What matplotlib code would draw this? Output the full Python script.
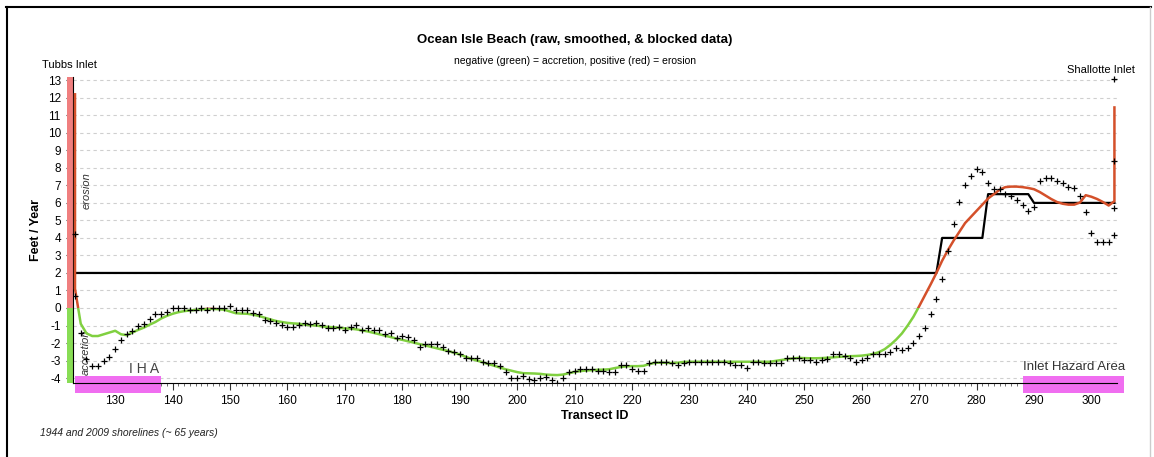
import matplotlib.pyplot as plt
from matplotlib.lines import Line2D
import numpy as np

plt.rcParams['font.family'] = ['Liberation Sans', 'DejaVu Sans']
plt.rcParams['axes.unicode_minus'] = False

# raw rates, one per transect 123..304
raw_ids = np.arange(123, 305)
raw_vals = [
    0.7, -1.4, -2.9, -3.3, -3.3, -3.0, -2.8, -2.36, -1.8, -1.5,
    -1.3, -1.04, -0.93, -0.6, -0.37, -0.37, -0.22, 0.0, 0.0, 0.0,
    -0.13, -0.09, 0.02, -0.13, 0.02, 0.02, 0.0, 0.13, -0.13, -0.13,
    -0.13, -0.28, -0.32, -0.66, -0.74, -0.85, -0.95, -1.1, -1.1, -0.98,
    -0.85, -0.9, -0.85, -0.95, -1.12, -1.12, -1.1, -1.23, -1.08, -0.99,
    -1.26, -1.12, -1.23, -1.23, -1.51, -1.45, -1.74, -1.6, -1.68, -1.85,
    -2.2, -2.06, -2.06, -2.06, -2.2, -2.46, -2.5, -2.6, -2.88, -2.88,
    -2.84, -3.07, -3.16, -3.12, -3.3, -3.63, -3.97, -3.97, -3.88, -4.05,
    -4.1, -4.0, -3.95, -4.1, -4.26, -4.0, -3.63, -3.57, -3.5, -3.5,
    -3.5, -3.6, -3.6, -3.63, -3.65, -3.26, -3.26, -3.5, -3.6, -3.6,
    -3.16, -3.1, -3.1, -3.1, -3.16, -3.26, -3.12, -3.07, -3.07, -3.07,
    -3.07, -3.07, -3.07, -3.07, -3.12, -3.26, -3.26, -3.4, -3.07, -3.07,
    -3.12, -3.12, -3.12, -3.12, -2.88, -2.88, -2.88, -2.97, -2.97, -3.1,
    -2.97, -2.9, -2.63, -2.63, -2.74, -2.88, -3.1, -2.97, -2.88, -2.65,
    -2.65, -2.65, -2.54, -2.27, -2.4, -2.27, -1.99, -1.61, -1.12, -0.36,
    0.53, 1.63, 3.28, 4.8, 6.05, 7.03, 7.54, 7.92, 7.79, 7.16,
    6.78, 6.78, 6.5, 6.4, 6.16, 5.87, 5.55, 5.77, 7.26, 7.44,
    7.44, 7.26, 7.16, 6.93, 6.87, 6.4, 5.49, 4.28, 3.79, 3.79,
    3.79, 4.19,
]
# extra raw points sharing a transect at the inlets
extra_ids = [123, 304, 304, 304]
extra_vals = [4.2, 5.7, 8.4, 13.1]

# smoothed curve
smooth_ids = np.concatenate([[123], np.arange(123, 305), [304]])
smooth_vals = [
    12.2,
    1.1, -0.9, -1.45, -1.6, -1.6, -1.5, -1.4, -1.3, -1.5, -1.55,
    -1.4, -1.25, -1.12, -0.95, -0.8, -0.6, -0.45, -0.33, -0.24, -0.18,
    -0.14, -0.11, -0.08, -0.05, -0.05, -0.07, -0.1, -0.2, -0.3, -0.32,
    -0.33, -0.38, -0.45, -0.55, -0.65, -0.74, -0.8, -0.85, -0.88, -0.9,
    -0.95, -0.98, -1.0, -1.05, -1.08, -1.1, -1.13, -1.16, -1.18, -1.22,
    -1.28, -1.34, -1.42, -1.5, -1.58, -1.66, -1.75, -1.82, -1.9, -1.98,
    -2.06, -2.14, -2.22, -2.3, -2.38, -2.46, -2.55, -2.65, -2.78, -2.9,
    -3.0, -3.1, -3.2, -3.3, -3.4, -3.5, -3.58, -3.66, -3.72, -3.73,
    -3.74, -3.76, -3.8, -3.82, -3.83, -3.8, -3.72, -3.65, -3.6, -3.57,
    -3.55, -3.53, -3.52, -3.5, -3.43, -3.37, -3.33, -3.32, -3.32, -3.3,
    -3.2, -3.13, -3.12, -3.13, -3.15, -3.12, -3.08, -3.07, -3.07, -3.07,
    -3.07, -3.07, -3.07, -3.07, -3.07, -3.07, -3.07, -3.07, -3.07, -3.07,
    -3.07, -3.07, -3.02, -2.97, -2.92, -2.88, -2.85, -2.86, -2.87, -2.87,
    -2.86, -2.84, -2.82, -2.79, -2.77, -2.75, -2.74, -2.72, -2.68, -2.62,
    -2.52, -2.35, -2.1, -1.8, -1.45, -1.0, -0.5, 0.1, 0.72, 1.35,
    2.0, 2.7, 3.3, 3.85, 4.35, 4.85, 5.2, 5.55, 5.9, 6.25,
    6.5, 6.75, 6.9, 6.93, 6.93, 6.9, 6.85, 6.78, 6.62, 6.42,
    6.22, 6.05, 5.95, 5.9, 5.9, 6.02, 6.44, 6.35, 6.22, 6.05,
    5.85, 6.1,
    11.45,
]

# blocked rates: (first transect, last transect, rate)
blocks = [(123, 273, 2.0), (274, 281, 4.0), (282, 289, 6.5), (290, 304, 6.0)]
block_ids = np.arange(123, 305)
block_vals = np.zeros(len(block_ids))
for a, b, r in blocks:
    block_vals[(block_ids >= a) & (block_ids <= b)] = r

iha_left = (123, 138)
iha_right = (288, 305.7)

fig = plt.figure(figsize=(11.54, 4.57), dpi=100)
ax = fig.add_axes([0.063, 0.162, 0.9047, 0.67])

ax.set_xlim(122.6, 304.4)
ax.set_ylim(-4.28, 13.2)

ax.set_yticks(np.arange(-4, 14))
ax.set_xticks(np.arange(130, 301, 10))
ax.set_xticks(np.arange(123, 305), minor=True)
ax.yaxis.grid(True, color='#cfcfcf', linestyle=(0, (3, 3)), linewidth=0.8)
ax.set_axisbelow(True)
for s in ['top', 'right']:
    ax.spines[s].set_visible(False)
ax.tick_params(axis='both', which='major', direction='out', length=5, width=0.8, labelsize=8.5, color='#333333')
ax.tick_params(axis='x', which='minor', direction='out', length=2.5, width=0.6, color='#555555')

# red / green side bar
ax.bar(122.08, 13.2, width=1.05, color='#f07f7f', clip_on=False, zorder=1)
ax.bar(122.08, -4.28, width=1.05, color='#88dd55', clip_on=False, zorder=1)

# inlet hazard areas
for a, b in [iha_left, iha_right]:
    ax.bar((a + b) / 2, 0.95, width=b - a, bottom=-4.85, color='#f06ef0',
           clip_on=False, zorder=1)

# blocked data
ax.plot(block_ids, block_vals, color='black', linewidth=1.6, zorder=3)

# smoothed data (red above zero, green below)
for col, y0, y1 in [('#d4502a', 0, 20), ('#80d040', -10, 0)]:
    ln, = ax.plot(smooth_ids, smooth_vals, color=col, linewidth=1.8, zorder=4)
    clip = plt.Rectangle((100, y0), 220, y1 - y0, transform=ax.transData)
    ln.set_clip_path(clip)

# raw data
ax.plot(raw_ids, raw_vals, '+', color='black', markersize=5, markeredgewidth=0.9, zorder=5)
ax.plot(extra_ids, extra_vals, '+', color='black', markersize=5, markeredgewidth=0.9,
        zorder=5, clip_on=False)

ax.set_xlabel('Transect ID', fontsize=9, fontweight='bold', labelpad=2)
ax.set_ylabel('Feet / Year', fontsize=9, fontweight='bold', labelpad=4)

ax.text(122.1, 13.85, 'Tubbs Inlet', fontsize=8, ha='center', va='center')
ax.text(301.6, 13.6, 'Shallotte Inlet', fontsize=8, ha='center', va='center', clip_on=False)
ax.text(125.1, 6.7, 'erosion', fontsize=8, style='italic', rotation=90, ha='center', va='center', color='#333333')
ax.text(124.9, -2.5, 'accretion', fontsize=8, style='italic', rotation=90, ha='center', va='center', color='#333333')
ax.text(135, -3.48, 'I H A', fontsize=10, ha='center', va='center', color='#444444')
ax.text(297, -3.35, 'Inlet Hazard Area', fontsize=9.5, ha='center', va='center', color='#333333')

fig.text(0.498, 0.913, 'Ocean Isle Beach (raw, smoothed, & blocked data)', fontsize=9.5,
         fontweight='bold', ha='center', va='center')
fig.text(0.498, 0.867, 'negative (green) = accretion, positive (red) = erosion', fontsize=7.5,
         ha='center', va='center')
fig.text(40 / 1154, 1 - 433 / 457, '1944 and 2009 shorelines (~ 65 years)', fontsize=7.5,
         style='italic', ha='left', va='center', color='#222222')

# outer frame
fig.add_artist(Line2D([0.005, 0.997], [0.985, 0.985], color='black', linewidth=1.5))
fig.add_artist(Line2D([0.006, 0.006], [0.0, 0.985], color='black', linewidth=1.5))
fig.add_artist(Line2D([0.9965, 0.9965], [0.0, 0.985], color='#cccccc', linewidth=1.0))

fig.savefig('out.png', dpi=100)
